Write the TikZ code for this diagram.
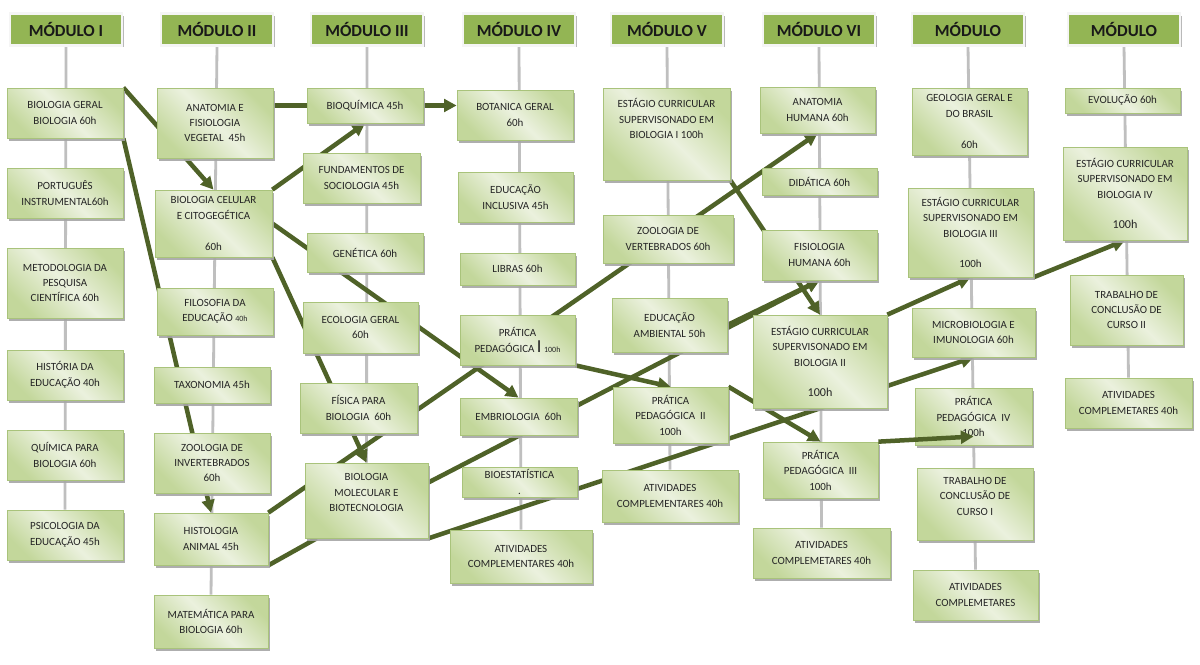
\documentclass[tikz,border=0pt]{standalone}
\usepackage{fontspec}
\setmainfont{Carlito}
\usepackage{tikz}
\usepackage{xcolor}
\usetikzlibrary{arrows.meta,shadows,backgrounds}

\begin{document}
\begin{tikzpicture}[x=0.025cm,y=-0.025cm,
  hdr/.style={fill=hdrgreen,draw=black!4,line width=2pt,minimum width=2.8cm,minimum height=0.78cm,
    font=\fontsize{12}{14}\selectfont\bfseries,text=black!90,
    drop shadow={shadow xshift=1.2pt,shadow yshift=-1.5pt,fill=black!30,opacity=0.9}},
  box/.style={draw=boxedge,line width=0.5pt,left color=boxdark,right color=boxdark,middle color=boxlight,shading angle=135,
    drop shadow={shadow xshift=1.4pt,shadow yshift=-1.8pt,fill=black!35,opacity=0.9},
    text=black!85,align=center,inner sep=1pt,font=\fontsize{7.8}{11}\selectfont},
  sz/.style 2 args={minimum width=#1*0.025cm,minimum height=#2*0.025cm},
  spine/.style={draw=spinegray,line width=2pt},
  link/.style={draw=olivedk,line width=3.2pt},
  linkarr/.style={link,-{Triangle[length=9pt,width=9pt]}}]
\definecolor{hdrgreen}{HTML}{93B554}
\definecolor{boxdark}{HTML}{C3D79B}
\definecolor{boxlight}{HTML}{EBF1DE}
\definecolor{boxedge}{HTML}{A9C37B}
\definecolor{olivedk}{HTML}{4F6228}
\definecolor{spinegray}{HTML}{BFBFBF}
\useasboundingbox (0,0) rectangle (1200,664);
  \foreach \nm/\txt/\px in {h1/MÓDULO I/66,h2/MÓDULO II/217,h3/MÓDULO III/367,h4/MÓDULO IV/519,
    h5/MÓDULO V/667,h6/MÓDULO VI/819,h7/MÓDULO/968,h8/MÓDULO/1124}
  {  \node [hdr] (\nm) at (\px,29.5) {\txt};}

\node[box,sz={116}{50}] (biogeral) at (65,113) {BIOLOGIA GERAL\\BIOLOGIA 60h};
\node[box,sz={116}{50}] (portugues) at (65,193) {PORTUGUÊS\\INSTRUMENTAL60h};
\node[box,sz={116}{70}] (metodologia) at (65,283) {METODOLOGIA DA\\PESQUISA\\CIENTÍFICA 60h};
\node[box,sz={116}{50}] (historia) at (65,375) {HISTÓRIA DA\\EDUCAÇÃO 40h};
\node[box,sz={116}{50}] (quimica) at (65,455) {QUÍMICA PARA\\BIOLOGIA 60h};
\node[box,sz={116}{50}] (psicologia) at (65,535) {PSICOLOGIA DA\\EDUCAÇÃO 45h};

\node[box,sz={116}{70}] (anatomia) at (215,123) {ANATOMIA E\\FISIOLOGIA\\VEGETAL\ \ 45h};
\node[box,sz={117}{67}] (biocel) at (213.5,223.5) {BIOLOGIA CELULAR\\E CITOGEGÉTICA\\~\\60h};
\node[box,sz={116}{47}] (filosofia) at (215,311.5) {FILOSOFIA DA\\EDUCAÇÃO {\fontsize{5.7}{7}\selectfont 40h}};
\node[box,sz={116}{36}] (taxonomia) at (212,385) {TAXONOMIA 45h};
\node[box,sz={116}{60}] (zoolinv) at (212,463) {ZOOLOGIA DE\\INVERTEBRADOS\\60h};
\node[box,sz={114}{52}] (histologia) at (211,539) {HISTOLOGIA\\ANIMAL 45h};
\node[box,sz={114}{53}] (matematica) at (211,621.5) {MATEMÁTICA PARA\\BIOLOGIA 60h};

\node[box,sz={116}{35}] (bioquimica) at (365,105.5) {BIOQUÍMICA 45h};
\node[box,sz={117}{50}] (fundamentos) at (361.5,178) {FUNDAMENTOS DE\\SOCIOLOGIA 45h};
\node[box,sz={116}{39}] (genetica) at (365,252.5) {GENÉTICA 60h};
\node[box,sz={115}{51}] (ecologia) at (360.5,327.5) {ECOLOGIA GERAL\\60h};
\node[box,sz={117}{50}] (fisica) at (358.5,408) {FÍSICA PARA\\BIOLOGIA\ \ 60h};
\node[box,sz={123}{75}] (biomol) at (366.5,500.5) {BIOLOGIA\\MOLECULAR E\\BIOTECNOLOGIA\\~};

\node[box,sz={116}{50}] (botanica) at (515,115) {BOTANICA GERAL\\60h};
\node[box,sz={115}{50}] (eduinclusiva) at (515.5,197) {EDUCAÇÃO\\INCLUSIVA 45h};
\node[box,sz={115}{32}] (libras) at (517.5,269) {LIBRAS 60h};
\node[box,sz={115}{50}] (praticaI) at (517.5,340) {PRÁTICA\\PEDAGÓGICA {\fontsize{13}{13}\selectfont I} {\fontsize{5.7}{7}\selectfont 100h}};
\node[box,sz={117}{37}] (embriologia) at (518.5,416.5) {EMBRIOLOGIA\ \ 60h};
\node[box,sz={115}{30}] (bioestatistica) at (519.5,482) {BIOESTATÍSTICA\\.};
\node[box,sz={142}{53}] (ativIV) at (521,556.5) {ATIVIDADES\\COMPLEMENTARES 40h};

\node[box,sz={127}{92}] (estagioI) at (666.5,134) {ESTÁGIO CURRICULAR\\SUPERVISONADO EM\\BIOLOGIA I 100h\\~\\~};
\node[box,sz={130}{48}] (zoolvert) at (668,239) {ZOOLOGIA DE\\VERTEBRADOS 60h};
\node[box,sz={115}{54}] (eduambiental) at (669.5,325) {EDUCAÇÃO\\AMBIENTAL 50h};
\node[box,sz={115}{56}] (praticaII) at (670.5,415) {PRÁTICA\\PEDAGÓGICA\ \ II\\100h};
\node[box,sz={136}{52}] (ativV) at (670,496) {ATIVIDADES\\COMPLEMENTARES 40h};

\node[box,sz={115}{46}] (anatomiahum) at (817.5,110) {ANATOMIA\\HUMANA 60h};
\node[box,sz={115}{27}] (didatica) at (819.5,181.5) {DIDÁTICA 60h};
\node[box,sz={115}{50}] (fisiologiahum) at (819.5,255) {FISIOLOGIA\\HUMANA 60h};
\node[box,sz={134}{93}] (estagioII) at (820,361.5) {ESTÁGIO CURRICULAR\\SUPERVISONADO EM\\BIOLOGIA II\\~\\{\fontsize{8.6}{11}\selectfont 100h}};
\node[box,sz={115}{56}] (praticaIII) at (820.5,470) {PRÁTICA\\PEDAGÓGICA\ \ III\\100h};
\node[box,sz={137}{50}] (ativVI) at (821.5,553) {ATIVIDADES\\COMPLEMETARES 40h};

\node[box,sz={115}{67}] (geologia) at (969.5,121.5) {GEOLOGIA GERAL E\\DO BRASIL\\~\\60h};
\node[box,sz={125}{89}] (estagioIII) at (970.5,232.5) {ESTÁGIO CURRICULAR\\SUPERVISONADO EM\\BIOLOGIA III\\~\\100h};
\node[box,sz={123}{49}] (micro) at (973.5,332.5) {MICROBIOLOGIA E\\IMUNOLOGIA 60h};
\node[box,sz={117}{57}] (praticaIV) at (973.5,416.5) {PRÁTICA\\PEDAGÓGICA\ \ IV\\100h};
\node[box,sz={116}{72}] (tccI) at (975,504) {TRABALHO DE\\CONCLUSÃO DE\\CURSO I\\~};
\node[box,sz={125}{50}] (ativVII) at (975.5,595) {ATIVIDADES\\COMPLEMETARES};

\node[box,sz={115}{25}] (evolucao) at (1122.5,100.5) {EVOLUÇÃO 60h};
\node[box,sz={124}{93}] (estagioIV) at (1125,193.5) {ESTÁGIO CURRICULAR\\SUPERVISONADO EM\\BIOLOGIA IV\\~\\{\fontsize{8.6}{11}\selectfont 100h}};
\node[box,sz={113}{70}] (tccII) at (1126.5,310) {TRABALHO DE\\CONCLUSÃO DE\\CURSO II};
\node[box,sz={127}{50}] (ativVIII) at (1128.5,403) {ATIVIDADES\\COMPLEMETARES 40h};

\begin{scope}[on background layer]
\fill[white] (0,0) rectangle (1200,664);
  \foreach \a/\b in {h1/psicologia,h2/matematica,h3/biomol,h4/ativIV,h5/ativV,h6/ativVI,h7/ativVII,h8/ativVIII}
  {  \draw[spine] (\a.south) -- (\b.north);}
\draw[linkarr] (biogeral.north east) -- (biocel.north);
\draw[linkarr] (biogeral.south east) -- (histologia.north);
\draw[linkarr] (anatomia.east |- bioquimica) -- (botanica.west |- bioquimica);
\draw[linkarr] (biocel.north east) -- (bioquimica.south);
\draw[linkarr] (biocel.east) -- (embriologia.north);
\draw[linkarr] (biocel.south east) -- (biomol.north);
\draw[linkarr] (histologia.north east) -- (anatomiahum.south);
\draw[link] (histologia.south east) -- ([xshift=0.3cm]biomol.south west);
\draw[linkarr] (biomol.south east) -- (micro.south);
\draw[linkarr] ([yshift=0.45cm]biomol.east) -- (fisiologiahum.south);
\draw[linkarr] (praticaI.south east) -- (praticaII.north);
\draw[linkarr] (estagioI.south east) -- (estagioII.north);
\draw[linkarr] (eduambiental.east) -- (fisiologiahum.south);
\draw[linkarr] (praticaII.north east) -- (praticaIII.north);
\draw[linkarr] (estagioII.north east) -- (estagioIII.south);
\draw[linkarr] (estagioIII.south east) -- (estagioIV.south);
\end{scope}
\draw[linkarr] (praticaIII.north east) -- ([yshift=-0.5cm]praticaIV.center);
\end{tikzpicture}
\end{document}
